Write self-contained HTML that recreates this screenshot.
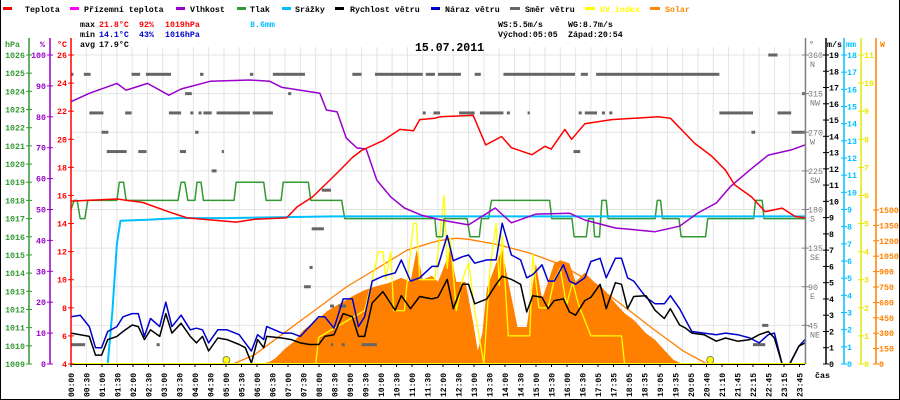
<!DOCTYPE html>
<html><head><meta charset="utf-8">
<style>
html,body{margin:0;padding:0;background:#fff;}
svg{display:block;font-family:"Liberation Mono",monospace;}
</style></head>
<body>
<svg id="chart" width="900" height="400" viewBox="0 0 900 400" xmlns="http://www.w3.org/2000/svg">
<rect x="0" y="0" width="900" height="400" fill="#fff"/>
<line x1="0.5" y1="0" x2="0.5" y2="400" stroke="#000"/>
<line x1="899.5" y1="0" x2="899.5" y2="400" stroke="#000"/>
<line x1="0" y1="399.5" x2="900" y2="399.5" stroke="#000"/>
<g id="grid"></g>
<g id="series"></g>
<g id="axes"></g>
<g font-size="8.3" font-weight="bold">
 <g><rect x="3" y="7" width="9" height="3" fill="#f00"/><text x="25" y="12">Teplota</text></g>
 <g><rect x="70" y="7" width="9" height="3" fill="#f0f"/><text x="84" y="12">Přízemní teplota</text></g>
 <g><rect x="176" y="7" width="9" height="3" fill="#90c"/><text x="190" y="12">Vlhkost</text></g>
 <g><rect x="237" y="7" width="9" height="3" fill="#393"/><text x="250" y="12">Tlak</text></g>
 <g><rect x="282" y="7" width="9" height="3" fill="#0bf"/><text x="295" y="12">Srážky</text></g>
 <g><rect x="335" y="7" width="9" height="3" fill="#000"/><text x="350" y="12">Rychlost větru</text></g>
 <g><rect x="431" y="7" width="9" height="3" fill="#00c"/><text x="445" y="12">Náraz větru</text></g>
 <g><rect x="510" y="7" width="10" height="3" fill="#666"/><text x="525" y="12">Směr větru</text></g>
 <g><rect x="585" y="7" width="10" height="3" fill="#ff0"/><text x="600" y="12" fill="#ff0">UV index</text></g>
 <g><rect x="650" y="7" width="10" height="3" fill="#f80"/><text x="665" y="12" fill="#f80">Solar</text></g>
</g>
<g font-size="8.3" font-weight="bold">
 <text x="80" y="27">max</text>
 <text x="99" y="27" fill="#f00">21.8°C</text><text x="139" y="27" fill="#f00">92%</text><text x="165" y="27" fill="#f00">1019hPa</text>
 <text x="250" y="27" fill="#0bf">8.6mm</text>
 <text x="80" y="37">min</text>
 <text x="99" y="37" fill="#00c">14.1°C</text><text x="139" y="37" fill="#00c">43%</text><text x="165" y="37" fill="#00c">1016hPa</text>
 <text x="80" y="47">avg</text><text x="99" y="47">17.9°C</text>
 <text x="498" y="27">WS:5.5m/s</text><text x="568" y="27">WG:8.7m/s</text>
 <text x="498" y="37">Východ:05:05</text><text x="568" y="37">Západ:20:54</text>
</g>
<text x="415" y="51" font-size="11.5" font-weight="bold">15.07.2011</text>
<text x="815" y="378" font-size="8.3" font-weight="bold">čas</text>
</svg>
<script>
// ---- data ----
const xLabels = ["00:00","00:30","01:00","01:30","02:00","02:30","03:00","03:30","04:00","04:30","05:00","05:30","06:00","06:30","07:00","07:30","08:00","08:30","09:00","09:30","10:00","10:30","11:00","11:30","12:00","12:30","13:00","13:30","14:00","14:30","15:00","15:30","16:00","16:30","17:05","17:35","18:05","18:35","19:05","19:35","20:05","20:40","21:10","21:45","22:15","22:45","23:15","23:45"];
const tempHours = [0,1.5,2.35,3.24,3.8,5.4,6.0,7.05,7.4,7.9,8.7,9.2,9.5,10.2,10.75,11.2,11.4,11.9,12.07,13.15,13.56,14.08,14.4,15.07,15.5,15.7,16.15,16.37,16.8,17.68,19.2,19.6,20.4,20.95,21.4,21.7,22.25,22.7,23.25,23.68,24];
const tempValues = [15.6,15.75,15.5,14.8,14.4,14.1,14.3,14.4,15.2,15.9,17.6,18.7,19.2,19.9,20.7,20.6,21.4,21.5,21.6,21.7,19.6,20.2,19.4,18.9,19.5,19.3,20.7,20.0,21.1,21.4,21.6,21.5,19.7,18.8,17.8,16.75,15.9,14.85,15.1,14.5,14.4];
const humHours = [0,0.6,1.5,1.8,2.5,3.2,3.6,4.55,5.85,6.5,6.9,8.14,8.35,8.7,9.0,9.35,9.65,10.0,10.45,10.9,11.45,12.1,13.0,13.87,14.4,15.2,16.3,16.8,17.8,19.1,19.9,20.5,21.1,21.56,22.2,22.8,23.55,24];
const humValues = [84.9,87.6,90.8,88.6,90.8,87,89,91.5,91.9,91.5,89.5,87.6,82.2,81.6,73.1,69.9,69.6,59.5,54.1,50.5,48.2,46.6,45,50.5,45.7,48.5,48.8,46.6,44,42.8,44.6,48.9,52.1,57.4,62.8,67.6,69.3,70.9];
const pressHours = [0,0.1,0.2,0.3,0.45,0.55,1.5,1.58,1.72,1.8,3.5,3.6,3.72,3.82,4.05,4.12,4.25,4.33,5.33,5.4,6.3,6.38,6.87,6.94,7.76,7.84,8.85,8.95,11.9,11.95,12.15,12.2,12.95,13.05,13.35,13.42,13.65,13.75,15.65,15.72,16.38,16.45,16.85,16.92,17.08,17.12,17.28,17.32,17.36,17.5,17.56,19.1,19.17,19.28,19.34,19.88,19.95,20.75,20.82,22.32,22.38,22.6,22.66,24];
const pressValues = [1017.5,1018,1018,1017,1017,1018,1018,1019,1019,1018,1018,1019,1019,1018,1018,1019,1019,1018,1018,1019,1019,1018,1018,1019,1019,1018,1018,1017,1017,1016,1016,1017,1017,1016,1016,1017,1017,1018,1018,1017,1017,1016,1016,1017,1017,1016,1016,1017,1018,1018,1017,1017,1018,1018,1017,1017,1016,1016,1017,1017,1018,1018,1017,1017];
const rainHours = [0,1.2,1.35,1.5,1.62,2.5,3.5,5,8.6,24];
const rainValues = [0,0,3,7,8.35,8.4,8.5,8.5,8.6,8.6];
const windHours = [0,0.3,0.6,0.8,1.0,1.2,1.5,1.7,2.0,2.2,2.4,2.6,2.9,3.1,3.3,3.6,3.9,4.1,4.3,4.5,4.8,5.1,5.5,5.7,5.9,6.1,6.3,6.4,6.9,7.2,7.5,7.8,8.1,8.3,8.6,8.9,9.2,9.4,9.6,9.85,10.2,10.6,10.8,11.1,11.4,11.8,12.0,12.3,12.5,12.8,13.0,13.2,13.6,13.9,14.1,14.4,14.7,14.9,15.1,15.4,15.6,15.8,16.1,16.3,16.5,16.8,17.0,17.3,17.5,17.8,18.0,18.2,18.4,18.8,19.1,19.4,19.6,19.9,20.1,20.3,20.7,21.1,21.4,21.8,22.2,22.5,22.8,23.0,23.25,23.5,23.8,24];
const windSpeed = [1.9,1.8,1.7,0.55,0.55,1.5,1.7,2.0,2.4,2.3,1.5,2.1,1.7,3.1,1.9,2.5,1.7,1.3,1.7,0.8,1.6,1.5,1.2,1.0,0.05,1.5,1.0,1.7,1.6,1.5,1.3,1.2,1.2,1.7,1.8,3.1,2.9,1.7,1.7,3.75,4.45,3.3,4.2,3.4,4.15,4.0,4.1,5.2,3.4,4.9,4.9,3.7,4.0,4.9,5.4,5.2,4.9,3.2,4.2,4.1,3.4,3.9,4.0,3.2,3.0,3.9,4.1,4.9,3.4,5.0,4.9,3.4,4.15,4.2,3.3,2.8,3.4,2.4,2.2,1.9,1.8,1.4,1.6,1.4,1.5,1.8,2.0,1.6,0,0,1.1,1.3];
const windGust = [2.9,3.0,2.3,1.0,1.0,2.0,2.3,2.9,3.1,3.1,1.7,2.8,2.3,3.8,2.3,3.0,2.1,2.2,2.1,1.3,2.1,2.1,1.8,1.3,0.8,1.8,1.5,2.3,1.9,1.9,1.7,2.3,2.9,2.9,2.2,4.0,4.0,2.3,2.9,5.1,5.4,5.6,6.4,5.1,5.3,6.0,6.0,7.9,6.35,6.6,6.7,6.2,6.4,6.4,8.65,6.7,6.4,5.3,5.5,6.1,5.1,5.1,6.1,5.1,4.9,5.3,6.3,6.5,5.3,6.5,6.5,5.3,5.1,4.1,3.7,3.7,4.2,3.4,2.7,2.0,1.9,1.8,1.9,1.8,1.6,1.3,1.8,1.9,0,0,1.1,1.5];
const solarHours = [6.2,6.5,6.7,7.0,7.3,7.6,8.0,8.4,8.8,9.2,9.6,10.0,10.4,10.8,11.1,11.3,11.5,11.8,12.0,12.2,12.4,12.6,12.9,13.15,13.3,13.45,13.6,13.9,14.1,14.3,14.6,14.9,15.2,15.4,15.6,15.8,16.0,16.3,16.5,16.8,17.1,17.4,17.8,18.1,18.4,18.8,19.1,19.4,19.7,20.0];
const solarValues = [0,20,60,150,220,330,420,520,590,660,720,760,790,840,800,1110,820,860,800,950,1110,800,800,400,130,300,735,980,1110,800,360,360,980,630,800,980,1010,980,800,890,800,735,590,495,430,300,235,135,40,0];
const clearSkyHours = [5.3,6,7,8,9,10,11,12,12.6,13,14,15,16,17,18,19,20,20.8];
const clearSkyValues = [0,90,310,530,750,930,1110,1200,1225,1215,1160,1080,970,800,580,350,130,0];
const uvHours = [0,8.0,8.1,9.6,9.85,10.05,10.2,10.3,10.45,10.55,10.9,11.0,11.2,11.3,11.4,11.5,11.9,12.2,12.3,12.4,12.6,12.8,13.0,13.2,13.5,13.7,13.9,14.0,14.1,14.3,15.0,15.1,15.3,15.6,15.8,16.0,16.2,16.4,16.6,17.0,18.0,18.1,24];
const uvValues = [0,0,0.95,1.9,3.0,4.0,4.0,3.0,4.0,1.9,1.9,3.0,5.0,5.0,3.0,3.0,3.0,6.0,3.4,4.5,1.9,3.0,3.6,1.9,0,3.4,5.0,2.8,4.6,1.0,1.0,3.9,2.0,2.0,3.0,3.4,2.1,2.9,2.1,1.0,1.0,0,0];
const dirStart = [0,0.42,1.98,2.45,4.22,5.85,6.6,9.2,9.94,11.6,12.0,13.2,14.14,16.67,17.17,22.8,3.73,7.1,23.9,0.6,1.77,3.2,3.9,4.17,4.33,4.76,5.94,11.5,11.85,12.69,13.37,14.25,14.93,16.6,16.8,17.36,17.6,21.2,23.1,1.0,4.06,22.25,23.56,1.17,2.2,3.56,4.93,16.43,4.6,8.2,7.87,7.8,22.6,7.62,8.47,8.75,0,2.8,8.5,8.85,9.5,22.3];
const dirEnd   = [0.08,0.64,2.26,3.27,4.33,5.96,7.65,9.5,11.5,11.9,12.75,13.4,16.48,16.9,21.2,23.1,3.95,7.2,24,1.06,1.98,3.6,4.0,4.27,4.6,5.85,6.6,11.6,12.07,13.2,14.14,14.35,15.0,16.7,17.2,17.46,17.7,22.3,23.55,1.22,4.17,22.37,24,1.82,2.47,3.76,5.0,16.65,4.76,8.5,8.27,7.9,22.8,7.84,8.6,9.0,0.46,2.9,8.57,8.95,10.0,22.7];
const dirValues = [337.5,337.5,337.5,337.5,337.5,337.5,337.5,337.5,337.5,337.5,337.5,337.5,337.5,337.5,337.5,360,315,315,315,292.5,292.5,292.5,292.5,292.5,292.5,292.5,292.5,292.5,292.5,292.5,292.5,292.5,292.5,292.5,292.5,292.5,292.5,292.5,292.5,270,270,270,270,247.5,247.5,247.5,247.5,247.5,225,202.5,157.5,112.5,45,90,67.5,67.5,22.5,22.5,22.5,22.5,22.5,22.5];
const sunEvents = [5.08, 20.9];
const tempTicks = [4,6,8,10,12,14,16,18,20,22,24,26];
const humTicks = [0,10,20,30,40,50,60,70,80,90,100];
const pressTicks = [1009,1010,1011,1012,1013,1014,1015,1016,1017,1018,1019,1020,1021,1022,1023,1024,1025,1026];
const dirTicks = [45,90,135,180,225,270,315,360];
const dirNames = ["NE","E","SE","S","SW","W","NW","N"];
const windTicks = [0,1,2,3,4,5,6,7,8,9,10,11,12,13,14,15,16,17,18,19];
const rainTicks = [0,1,2,3,4,5,6,7,8,9,10,11,12,13,14,15,16,17,18];
const uvTicks = [0,1,2,3,4,5,6,7,8,9,10,11];
const solarTicks = [0,150,300,450,600,750,900,1050,1200,1350,1500];

// ---- scales ----
const X0=71, X1=805, YT=55, YB=364, H=YB-YT;
const xH = h => X0 + h*(X1-X0)/24;
const yT = v => YB - (v-4)/22*H;
const yHum = v => YB - v/100*H;
const yP = v => YB - (v-1009)/17*H;
const yW = v => YB - v/19*H;
const yR = v => YB - v/18*H;
const yU = v => YB - v/11*H;
const yS = v => YB - v/1500*(YB-210);
const yD = v => YB - v/360*H;
const NS="http://www.w3.org/2000/svg";
function mk(tag, attrs, parent){const e=document.createElementNS(NS,tag);for(const k in attrs)e.setAttribute(k,attrs[k]);parent.appendChild(e);return e;}
const grid=document.getElementById('grid'), series=document.getElementById('series'), axes=document.getElementById('axes');

// grid
for(let i=0;i<=48;i++){const x=X0+i*(X1-X0)/48;mk('line',{x1:x,y1:YT-8,x2:x,y2:YB,stroke:'#e4e4e4','stroke-width':1},grid);}
for(let d=45;d<=360;d+=45){mk('line',{x1:X0,y1:yD(d),x2:X1,y2:yD(d),stroke:'#e4e4e4'},grid);}

function pts(hs,vs,fy){return hs.map((h,i)=>xH(h).toFixed(1)+','+fy(vs[i]).toFixed(1)).join(' ');}

// solar fill
const sp = mk('polygon',{points:xH(solarHours[0])+','+YB+' '+pts(solarHours,solarValues,yS)+' '+xH(solarHours[solarHours.length-1])+','+YB,fill:'#ff8000'},series);


const cs = mk('polyline',{points:pts(clearSkyHours,clearSkyValues,yS),fill:'none',stroke:'#ff8000','stroke-width':1.3},series);


// wind direction
for(let i=0;i<dirValues.length;i++){
  const r=mk('rect',{x:xH(dirStart[i]),y:yD(dirValues[i])-1.5,width:Math.max(2,xH(dirEnd[i])-xH(dirStart[i])),height:3,fill:'#666'},series);
  
  
}
const lines=[
 ['uv-line',uvHours,uvValues,yU,'#ffff00',1.3],
 ['pressure-line',pressHours,pressValues,yP,'#339933',1.5],
 ['rain-line',rainHours,rainValues,yR,'#00bfff',2],
 ['humidity-line',humHours,humValues,yHum,'#9900cc',1.5],
 ['temperature-line',tempHours,tempValues,yT,'#ff0000',1.5],
 ['wind-gust-line',windHours,windGust,yW,'#0000cc',1.5],
 ['wind-speed-line',windHours,windSpeed,yW,'#000000',1.5]
];
for(const L of lines){
  const p=mk('polyline',{points:pts(L[1],L[2],L[3]),fill:'none',stroke:L[4],'stroke-width':L[5],'stroke-linejoin':'round'},series);
  
  
}
for(const h of sunEvents){
  const c=mk('circle',{cx:xH(h),cy:YB-4,r:3.5,fill:'#ff0',stroke:'#666','stroke-width':0.8},series);
  
  
}
mk('line',{x1:X0,y1:YB+0.5,x2:X1,y2:YB+0.5,stroke:'#000','stroke-width':1},axes);
mk('line',{x1:X0,y1:YB-0.5,x2:X1,y2:YB-0.5,stroke:'#ff0','stroke-width':1},axes);

// x labels
xLabels.forEach((t,i)=>{
  const x=X0+i*15.5;
  mk('line',{x1:x,y1:YB,x2:x,y2:YB+3,stroke:'#000'},axes);
  const e=mk('text',{x:0,y:0,'font-size':8,'font-weight':'bold',transform:`translate(${x+3},${YB+33}) rotate(-90)`},axes);
  e.textContent=t;
  
  
});

// left axes
function vAxis(x,ticks,fy,color,labelRight,fmt,top,name){
  const g=mk('g',{},axes);
  
  
  mk('line',{x1:x,y1:top,x2:x,y2:YB,stroke:color,'stroke-width':1.5},g);
  for(const v of ticks){
    const y=fy(v);
    mk('line',{x1:x-3,y1:y,x2:x+3,y2:y,stroke:color},g);
    const t=mk('text',{x:labelRight?x+3:x-4,y:y+3,'font-size':8.3,'font-weight':'bold',fill:color,'text-anchor':labelRight?'start':'end'},g);
    t.textContent=fmt?fmt(v):v;
  }
  return g;
}
vAxis(29,pressTicks,yP,'#339933',false,null,38,'pressure-axis');
vAxis(50,humTicks,yHum,'#9900cc',false,null,38,'humidity-axis');
vAxis(71,tempTicks,yT,'#ff0000',false,null,38,'temperature-axis');
vAxis(826,windTicks,yW,'#000000',true,null,38,'wind-axis');
vAxis(844,rainTicks,yR,'#00bfff',true,null,38,'rain-axis');
vAxis(861,uvTicks,yU,'#e8e800',true,null,38,'uv-axis');
vAxis(876,solarTicks,yS,'#ff8000',true,null,38,'solar-axis');
// direction axis
const dg=mk('g',{},axes);


mk('line',{x1:805.5,y1:38,x2:805.5,y2:YB,stroke:'#808080','stroke-width':1.5},dg);
dirTicks.forEach((d,i)=>{
  const y=yD(d);
  mk('line',{x1:802,y1:y,x2:809,y2:y,stroke:'#808080'},dg);
  const t=mk('text',{x:808,y:y+3,'font-size':8.3,fill:'#777'},dg);t.textContent=d;
  const n=mk('text',{x:810,y:y+12,'font-size':8.3,fill:'#777'},dg);n.textContent=dirNames[i];
});
const heads=[['hPa',5,'#339933'],['%',40,'#9900cc'],['°C',57,'#f00'],['°',809,'#777'],['m/s',827,'#000'],['mm',846,'#00bfff'],['W',880,'#ff8000']];
for(const h of heads){const t=mk('text',{x:h[1],y:47,'font-size':8.3,'font-weight':'bold',fill:h[2]},axes);t.textContent=h[0];}
</script>
</body></html>
